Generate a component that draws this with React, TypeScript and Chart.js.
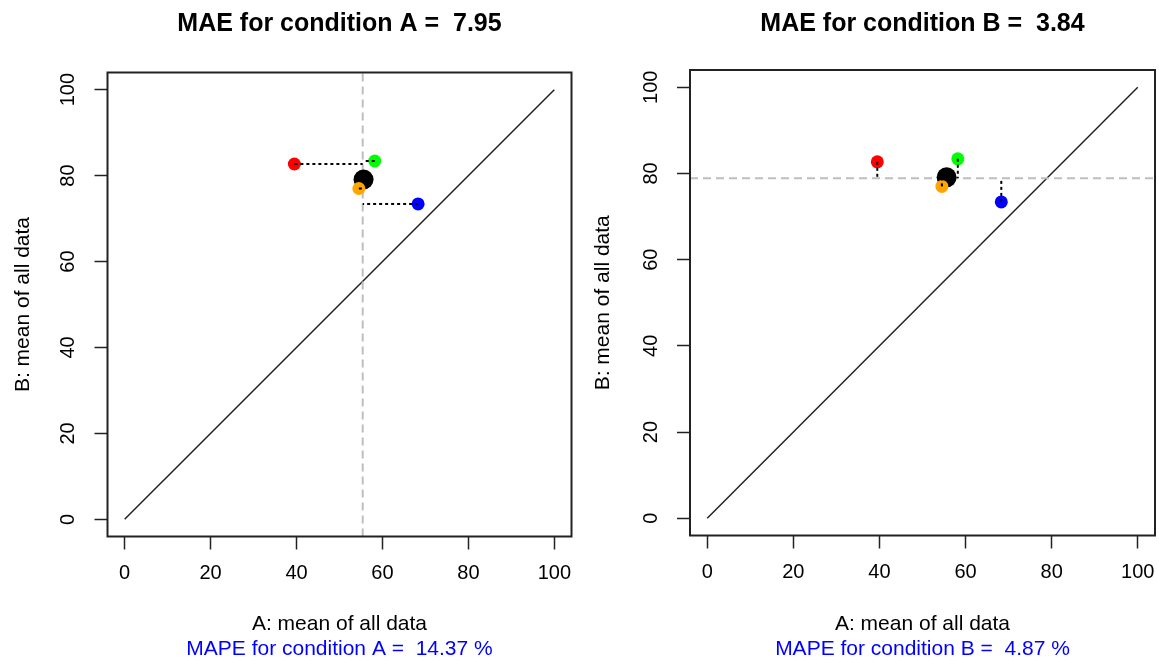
import React, { useEffect, useRef } from 'react';
import { Chart, registerables } from 'chart.js';

Chart.register(...registerables);
Chart.defaults.font.family = '"Liberation Sans", Arial, Helvetica, sans-serif';

// ---- data ----
const axisTicks = [0, 20, 40, 60, 80, 100];
const axisRange = [-4, 104];
const identityLine = [0, 100];
const pointNames = ['red', 'green', 'orange', 'blue'];
const pointColors = ['#FF0000', '#00FF00', '#FFA500', '#0000FF'];
const conditionA = [39.5, 58.2, 54.5, 68.3];
const conditionB = [82.7, 83.4, 77.0, 73.4];
const meanPoint = [55.6, 79.1];
const meanLines = [55.4, 78.9];
const conditionNames = ['A', 'B'];
const maeValues = ['7.95', '3.84'];
const mapeValues = ['14.37', '4.87'];

const CANVAS_H = 662;
const TITLE_SIZE = 25;
const TEXT_SIZE = 21;
const SUB_H = TEXT_SIZE * 1.2;

const boxPlugin = {
  id: 'rbox',
  afterDraw(chart: any) {
    const { ctx, chartArea } = chart;
    const { left, top, right, bottom } = chartArea;
    ctx.save();
    ctx.strokeStyle = '#222';
    ctx.lineWidth = 2;
    ctx.strokeRect(left, top, right - left, bottom - top);
    ctx.restore();
  },
};

type Box = { left: number; right: number; top: number; bottom: number };

function Panel({ index, left, width, box }: { index: number; left: number; width: number; box: Box }) {
  const ref = useRef<HTMLCanvasElement>(null);
  useEffect(() => {
    if (!ref.current) return;
    const isA = index === 0;
    const datasets: any[] = [];
    conditionA.forEach((x, i) => {
      const y = conditionB[i];
      datasets.push({
        label: pointNames[i] + ' deviation',
        data: isA ? [{ x, y }, { x: meanLines[0], y }] : [{ x, y }, { x, y: meanLines[1] }],
        showLine: true,
        borderColor: '#000',
        borderWidth: 2,
        borderDash: [3, 3],
        pointRadius: 0,
        order: 0,
      });
    });
    datasets.push({
      label: 'points',
      data: conditionA.map((x, i) => ({ x, y: conditionB[i] })),
      backgroundColor: pointColors,
      borderWidth: 0,
      pointRadius: 6.5,
      order: 1,
    });
    datasets.push({
      label: 'mean',
      data: [{ x: meanPoint[0], y: meanPoint[1] }],
      backgroundColor: '#000',
      borderWidth: 0,
      pointRadius: 10,
      order: 2,
    });
    datasets.push({
      label: 'mean line',
      data: isA
        ? axisRange.map((y) => ({ x: meanLines[0], y }))
        : axisRange.map((x) => ({ x, y: meanLines[1] })),
      showLine: true,
      borderColor: '#BEBEBE',
      borderWidth: 2,
      borderDash: [8, 5],
      pointRadius: 0,
      order: 3,
    });
    datasets.push({
      label: 'identity',
      data: identityLine.map((v) => ({ x: v, y: v })),
      showLine: true,
      borderColor: '#222',
      borderWidth: 1.5,
      pointRadius: 0,
      order: 4,
    });

    const name = conditionNames[index];
    const tickGrid = {
      display: true,
      drawOnChartArea: false,
      drawTicks: true,
      tickLength: 13,
      tickColor: '#222',
      tickWidth: 1.5,
    };

    const chart = new Chart(ref.current, {
      type: 'scatter',
      data: { datasets },
      plugins: [boxPlugin],
      options: {
        responsive: false,
        animation: false,
        events: [],
        layout: {
          autoPadding: false,
          padding: { left: 0, right: width - box.right, top: 0, bottom: 0 },
        },
        plugins: {
          legend: { display: false },
          tooltip: { enabled: false },
          title: {
            display: true,
            text: `MAE for condition ${name} =  ${maeValues[index]}`,
            color: '#000',
            fullSize: false,
            font: { size: TITLE_SIZE, weight: 'bold' },
            padding: { top: 9, bottom: box.top - 9 - TITLE_SIZE * 1.2 },
          },
          subtitle: {
            display: true,
            position: 'bottom',
            text: `MAPE for condition ${name} =  ${mapeValues[index]} %`,
            color: '#0000FF',
            fullSize: false,
            font: { size: TEXT_SIZE },
            padding: { top: 0, bottom: 0 },
          },
        },
        scales: {
          x: {
            type: 'linear',
            min: axisRange[0],
            max: axisRange[1],
            afterBuildTicks: (s: any) => {
              s.ticks = axisTicks.map((v) => ({ value: v }));
            },
            afterFit: (s: any) => {
              s.height = CANVAS_H - SUB_H - box.bottom;
              s.paddingLeft = 0;
              s.paddingRight = 0;
            },
            grid: tickGrid,
            border: { display: false },
            ticks: { font: { size: 20 }, color: '#000', padding: 12, maxRotation: 0, minRotation: 0, autoSkip: false },
            title: {
              display: true,
              text: 'A: mean of all data',
              color: '#000',
              font: { size: TEXT_SIZE },
              padding: { top: 0, bottom: 0 },
            },
          },
          y: {
            type: 'linear',
            min: axisRange[0],
            max: axisRange[1],
            afterBuildTicks: (s: any) => {
              s.ticks = axisTicks.map((v) => ({ value: v }));
            },
            afterFit: (s: any) => {
              s.width = box.left;
              s.paddingTop = 0;
              s.paddingBottom = 0;
            },
            grid: tickGrid,
            border: { display: false },
            ticks: {
              font: { size: 20 },
              color: '#000',
              padding: 9,
              minRotation: 90,
              maxRotation: 90,
              crossAlign: 'center',
              autoSkip: false,
            },
            title: {
              display: true,
              text: 'B: mean of all data',
              color: '#000',
              font: { size: TEXT_SIZE },
              padding: { top: 11, bottom: 0 },
            },
          },
        },
      } as any,
    });
    return () => chart.destroy();
  }, [index, width, box]);

  return (
    <canvas
      ref={ref}
      width={width}
      height={CANVAS_H}
      style={{ position: 'absolute', left, top: 0, width, height: CANVAS_H }}
    />
  );
}

const boxA: Box = { left: 107.5, right: 571.5, top: 72.5, bottom: 536.5 };
const boxB: Box = { left: 110, right: 575, top: 70, bottom: 535.5 };

export default function App() {
  return (
    <div style={{ position: 'fixed', left: 0, top: 0, width: 1159, height: CANVAS_H, background: '#fff', overflow: 'hidden' }}>
      <Panel index={0} left={0} width={580} box={boxA} />
      <Panel index={1} left={580} width={579} box={boxB} />
    </div>
  );
}
